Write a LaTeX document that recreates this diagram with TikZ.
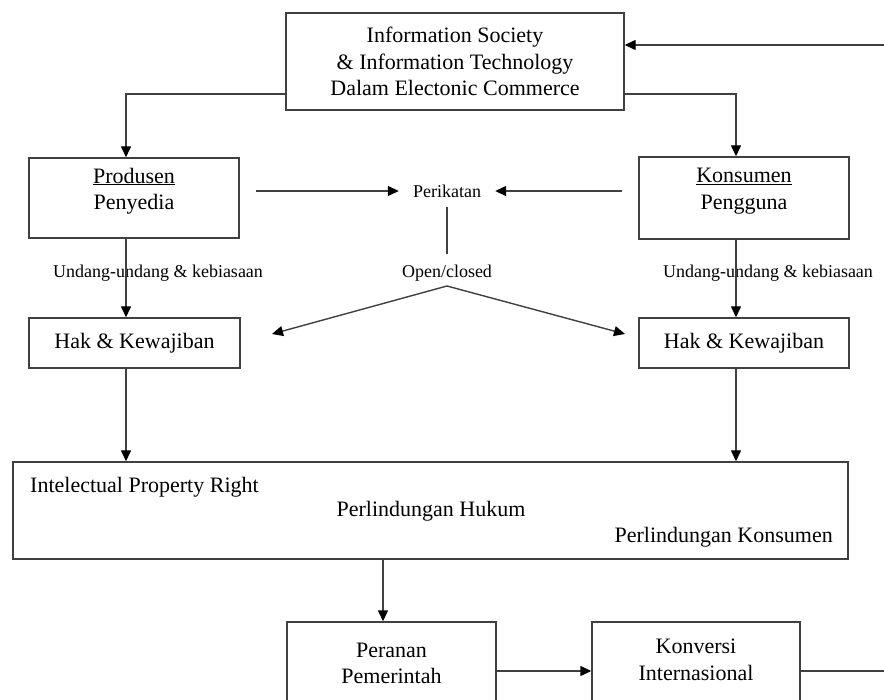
\documentclass[tikz,border=0pt]{standalone}
\usepackage{fontspec}
\setmainfont{Liberation Serif}
\usetikzlibrary{arrows.meta}
\begin{document}
\begin{tikzpicture}[x=1pt,y=-1pt,
  line/.style={draw=black!75, line width=1.4pt},
  arr/.style={line, -{Triangle[length=11pt,width=10pt,color=black]}},
  box/.style={draw=black!75, line width=1.4pt, inner sep=0pt},
  bigtxt/.style={font=\fontsize{22}{26.5}\selectfont, text=black},
  smalltxt/.style={font=\fontsize{18}{21}\selectfont, text=black},
]
\useasboundingbox (0,0) rectangle (884,700);
\clip (0,0) rectangle (884,700);

% boxes
\node[box, minimum width=338pt, minimum height=97pt] (top) at (455,61.5) {};
\node[bigtxt, align=center] (toptext) at (455,61.5) {Information Society\\ \& Information Technology\\ Dalam Electonic Commerce};

\node[box, minimum width=210pt, minimum height=80pt] (prod) at (134,198) {};
\node[bigtxt, align=center] (prodt) at (134,191) {\underline{Produsen}\\ Penyedia};

\node[box, minimum width=210pt, minimum height=82pt] (kon) at (744,198) {};
\node[bigtxt, align=center] (kont) at (744,191) {\underline{Konsumen}\\ Pengguna};

\node[box, bigtxt, minimum width=211pt, minimum height=50pt] (hakl) at (134.5,343) {Hak \& Kewajiban};
\node[box, bigtxt, minimum width=210pt, minimum height=50pt] (hakr) at (744,343) {Hak \& Kewajiban};

\node[box, minimum width=835pt, minimum height=97pt] (bigbox) at (430.5,510.5) {};
\node[bigtxt, anchor=west, inner sep=0pt] (ipr) at (30,487) {Intelectual Property Right};
\node[bigtxt, inner sep=0pt] (ph) at (431,511) {Perlindungan Hukum};
\node[bigtxt, anchor=east, inner sep=0pt] (pk) at (833,537) {Perlindungan Konsumen};

\node[box, minimum width=209pt, minimum height=100pt] (peran) at (391.5,672) {};
\node[bigtxt, align=center] (perant) at (391.5,663.5) {Peranan\\ Pemerintah};
\node[box, minimum width=208pt, minimum height=100pt] (konv) at (696,672) {};
\node[bigtxt, align=center] (konvt) at (696,660) {Konversi\\ Internasional};

% labels
\node[smalltxt] (ul) at (158,273) {Undang-undang \& kebiasaan};
\node[smalltxt] (ur) at (768,273) {Undang-undang \& kebiasaan};
\node[smalltxt, inner xsep=14pt] (peri) at (447,191) {Perikatan};
\node[smalltxt] (oc) at (447,273) {Open/closed};

% helper coordinates
\coordinate (inR) at (884,45);
\coordinate (outR) at (884,671);
\coordinate (tl) at (126,94);
\coordinate (tr) at (736,94);
\coordinate (v1) at (447,207);
\coordinate (v2) at (447,254);
\coordinate (ocb) at (447,286);
\coordinate (al) at (272,334);
\coordinate (ar) at (625,334);
\coordinate (cm) at (383,600);
\coordinate (hy) at (500,671);

% connectors
\draw[arr] (inR) -- (top.east |- inR);
\draw[arr] (top.west |- tl) -| (prod.north -| tl);
\draw[arr] (top.east |- tr) -| (kon.north -| tr);
\draw[arr] (prod.south -| tl) -- (hakl.north -| tl);
\draw[arr] (kon.south -| tr) -- (hakr.north -| tr);
\draw[arr] (hakl.south -| tl) -- (bigbox.north -| tl);
\draw[arr] (hakr.south -| tr) -- (bigbox.north -| tr);
\draw[arr, shorten <=16pt] (prod.east |- peri) -- (peri.west);
\draw[arr, shorten <=16pt] (kon.west |- peri) -- (peri.east);
\draw[line] (v1) -- (v2);
\draw[arr] (ocb) -- (al);
\draw[arr] (ocb) -- (ar);
\draw[arr] (bigbox.south -| cm) -- (peran.north -| cm);
\draw[arr] (peran.east |- hy) -- (konv.west |- hy);
\draw[line] (konv.east |- outR) -- (outR);
\end{tikzpicture}
\end{document}
